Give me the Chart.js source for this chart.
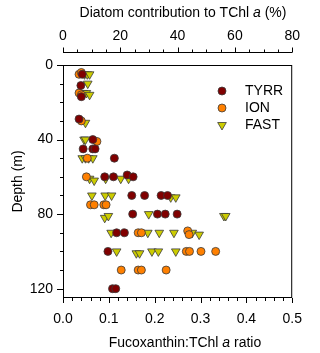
<!DOCTYPE html>
<html>
<head>
<meta charset="utf-8">
<script src="https://cdn.jsdelivr.net/npm/chart.js@4/dist/chart.umd.min.js"></script>
<style>
  body { margin: 0; background: #fff; }
  #wrap { width: 320px; height: 353px; }
</style>
</head>
<body>
<div id="wrap"><canvas id="grafico" width="320" height="353"></canvas></div>
<script>
/* DATA */

const tyrrRatio = [0.042, 0.039, 0.040, 0.035, 0.065, 0.044, 0.065, 0.070, 0.112, 0.091, 0.110, 0.140, 0.153,
    0.150, 0.178, 0.214, 0.228, 0.152, 0.206, 0.223, 0.249, 0.117, 0.134, 0.098, 0.108, 0.115];
const tyrrDepth = [5, 11, 17, 29, 40, 45, 45, 45, 50, 60, 60, 59, 60,
    70, 70, 70, 70, 80, 80, 80, 80, 90, 90, 100, 120, 120];

const ionRatio = [0.035, 0.040, 0.035, 0.040, 0.040, 0.074, 0.053, 0.051, 0.060, 0.068, 0.089, 0.094,
    0.164, 0.171, 0.272, 0.275, 0.269, 0.276, 0.301, 0.333, 0.127, 0.164, 0.171, 0.225];
const ionDepth = [5, 4, 15, 16, 30, 41, 50, 60, 75, 75, 75, 75,
    90, 90, 89, 91, 100, 100, 100, 100, 110, 110, 110, 110];

const fastRatio = [0.047, 0.053, 0.058, 0.054, 0.044, 0.051, 0.058, 0.049, 0.046, 0.049, 0.042, 0.049, 0.056, 0.065,
    0.058, 0.068, 0.093, 0.126, 0.143, 0.063, 0.092, 0.106, 0.235, 0.246, 0.091, 0.099, 0.187, 0.351, 0.355,
    0.105, 0.185, 0.210, 0.242, 0.282, 0.297, 0.117, 0.160, 0.167, 0.194, 0.208, 0.246];
const fastDepth = [5, 5, 5, 10, 15, 15, 16, 31, 40, 40, 50, 50, 50, 50,
    61, 62, 61, 61, 61, 70, 70, 70, 71, 71, 82, 81, 80, 81, 81,
    90, 90, 90, 90, 90, 91, 100, 101, 101, 100, 100, 100];

const seriesNames = ['TYRR', 'ION', 'FAST'];
const ratioTicks = [0, 0.1, 0.2, 0.3, 0.4, 0.5];
const depthTicks = [0, 40, 80, 120];
const diatomTicks = [0, 20, 40, 60, 80];

const FONT = "'Liberation Sans', Arial, sans-serif";

/* HELPERS */

function pares(xs, ys) {
    return xs.map((v, i) => ({ x: v, y: ys[i] }));
}

function ehMarcado(lista, v) {
    return lista.some(t => Math.abs(t - v) < 1e-6);
}

function textoMisto(ctx, partes, cx, cy) {
    let total = 0;
    partes.forEach(p => {
        ctx.font = (p.italic ? 'italic ' : '') + '14px ' + FONT;
        p.w = ctx.measureText(p.t).width;
        total += p.w;
    });
    let x = cx - total / 2;
    ctx.textAlign = 'left';
    ctx.textBaseline = 'middle';
    partes.forEach(p => {
        ctx.font = (p.italic ? 'italic ' : '') + '14px ' + FONT;
        ctx.fillText(p.t, x, cy);
        x += p.w;
    });
}

/* FRAME, TICKS, TITLES, LEGEND */

const moldura = {
    id: 'moldura',
    beforeDatasetsDraw(chart) {
        const ctx = chart.ctx;
        const a = chart.chartArea;
        const sx = chart.scales.x, sy = chart.scales.y, s2 = chart.scales.x2;
        ctx.save();
        ctx.strokeStyle = '#000';
        ctx.lineWidth = 1;
        ctx.strokeRect(a.left + 0.5, a.top + 0.5, a.right - a.left - 1, a.bottom - a.top - 1);

        ctx.beginPath();
        sy.ticks.forEach(t => {
            if (Math.abs(t.value % 10) > 1e-6) return;
            const py = Math.round(sy.getPixelForValue(t.value)) + 0.5;
            const len = ehMarcado(depthTicks, t.value) ? 6 : 3;
            ctx.moveTo(a.left, py);
            ctx.lineTo(a.left - len, py);
        });
        sx.ticks.forEach(t => {
            const px = Math.round(sx.getPixelForValue(t.value)) + 0.5;
            const len = ehMarcado(ratioTicks, t.value) ? 5 : 3;
            ctx.moveTo(px, a.bottom);
            ctx.lineTo(px, a.bottom + len);
        });
        const yTop = a.top - 12.5;
        ctx.moveTo(s2.left, yTop);
        ctx.lineTo(s2.right, yTop);
        s2.ticks.forEach(t => {
            const px = Math.round(s2.getPixelForValue(t.value)) + 0.5;
            const len = ehMarcado(diatomTicks, t.value) ? 5 : 3;
            ctx.moveTo(px, yTop);
            ctx.lineTo(px, yTop - len);
        });
        ctx.stroke();
        ctx.restore();
    },
    afterDraw(chart) {
        const ctx = chart.ctx;
        const a = chart.chartArea;
        ctx.save();
        ctx.fillStyle = '#000';
        textoMisto(ctx, [{ t: 'Diatom contribution to TChl ' }, { t: 'a', italic: true }, { t: ' (%)' }], 183, 13);
        textoMisto(ctx, [{ t: 'Fucoxanthin:TChl ' }, { t: 'a', italic: true }, { t: ' ratio' }], 185, 343);
        ctx.translate(18, (a.top + a.bottom) / 2);
        ctx.rotate(-Math.PI / 2);
        textoMisto(ctx, [{ t: 'Depth (m)' }], 0, 0);
        ctx.restore();

        // legend
        ctx.save();
        chart.data.datasets.forEach((ds, i) => {
            const cy = 91 + i * 17;
            ctx.fillStyle = ds.backgroundColor;
            ctx.strokeStyle = ds.borderColor;
            ctx.lineWidth = ds.borderWidth;
            Chart.helpers.drawPoint(ctx, {
                pointStyle: ds.pointStyle,
                rotation: ds.rotation,
                radius: ds.pointRadius,
                borderWidth: ds.borderWidth
            }, 222, cy);
            ctx.fillStyle = '#000';
            ctx.font = '14px ' + FONT;
            ctx.textAlign = 'left';
            ctx.textBaseline = 'middle';
            ctx.fillText(ds.label, 245, cy);
        });
        ctx.restore();
    }
};

/* CHART */

const grafico = new Chart(document.querySelector('#grafico'), {
    type: 'scatter',
    data: {
        datasets: [{
            label: seriesNames[0],
            data: pares(tyrrRatio, tyrrDepth),
            backgroundColor: '#800000',
            borderColor: '#3a3a3a',
            borderWidth: 0.8,
            pointStyle: 'circle',
            rotation: 0,
            pointRadius: 4
        }, {
            label: seriesNames[1],
            data: pares(ionRatio, ionDepth),
            backgroundColor: '#FF8000',
            borderColor: '#3a3a3a',
            borderWidth: 0.8,
            pointStyle: 'circle',
            rotation: 0,
            pointRadius: 4
        }, {
            label: seriesNames[2],
            data: pares(fastRatio, fastDepth),
            backgroundColor: '#CCCC00',
            borderColor: '#3a3a3a',
            borderWidth: 0.8,
            pointStyle: 'triangle',
            rotation: 180,
            pointRadius: 5
        }]
    },
    options: {
        responsive: false,
        animation: false,
        events: [],
        layout: { padding: { left: 0, right: 16, top: 0, bottom: 0 } },
        plugins: { legend: { display: false }, tooltip: { enabled: false } },
        scales: {
            x: {
                type: 'linear',
                position: 'bottom',
                min: 0,
                max: 0.5,
                grid: { display: false, drawTicks: false },
                border: { display: false },
                afterFit: s => { s.height = 55; },
                ticks: {
                    stepSize: 0.02,
                    autoSkip: false,
                    maxRotation: 0,
                    padding: 13,
                    color: '#000',
                    font: { family: FONT, size: 14 },
                    callback: v => ehMarcado(ratioTicks, v) ? v.toFixed(1) : ''
                }
            },
            x2: {
                type: 'linear',
                position: 'top',
                min: 0,
                max: 80,
                grid: { display: false, drawTicks: false },
                border: { display: false },
                afterFit: s => { s.height = 65; },
                ticks: {
                    stepSize: 5,
                    autoSkip: false,
                    maxRotation: 0,
                    padding: 20,
                    color: '#000',
                    font: { family: FONT, size: 14 },
                    callback: v => ehMarcado(diatomTicks, v) ? String(v) : ''
                }
            },
            y: {
                type: 'linear',
                reverse: true,
                min: 0,
                max: 125,
                grid: { display: false, drawTicks: false },
                border: { display: false },
                afterFit: s => { s.width = 63; },
                ticks: {
                    stepSize: 10,
                    includeBounds: false,
                    autoSkip: false,
                    padding: 10,
                    color: '#000',
                    font: { family: FONT, size: 14 },
                    callback: v => ehMarcado(depthTicks, v) ? String(v) : ''
                }
            }
        }
    },
    plugins: [moldura]
});
</script>
</body>
</html>
